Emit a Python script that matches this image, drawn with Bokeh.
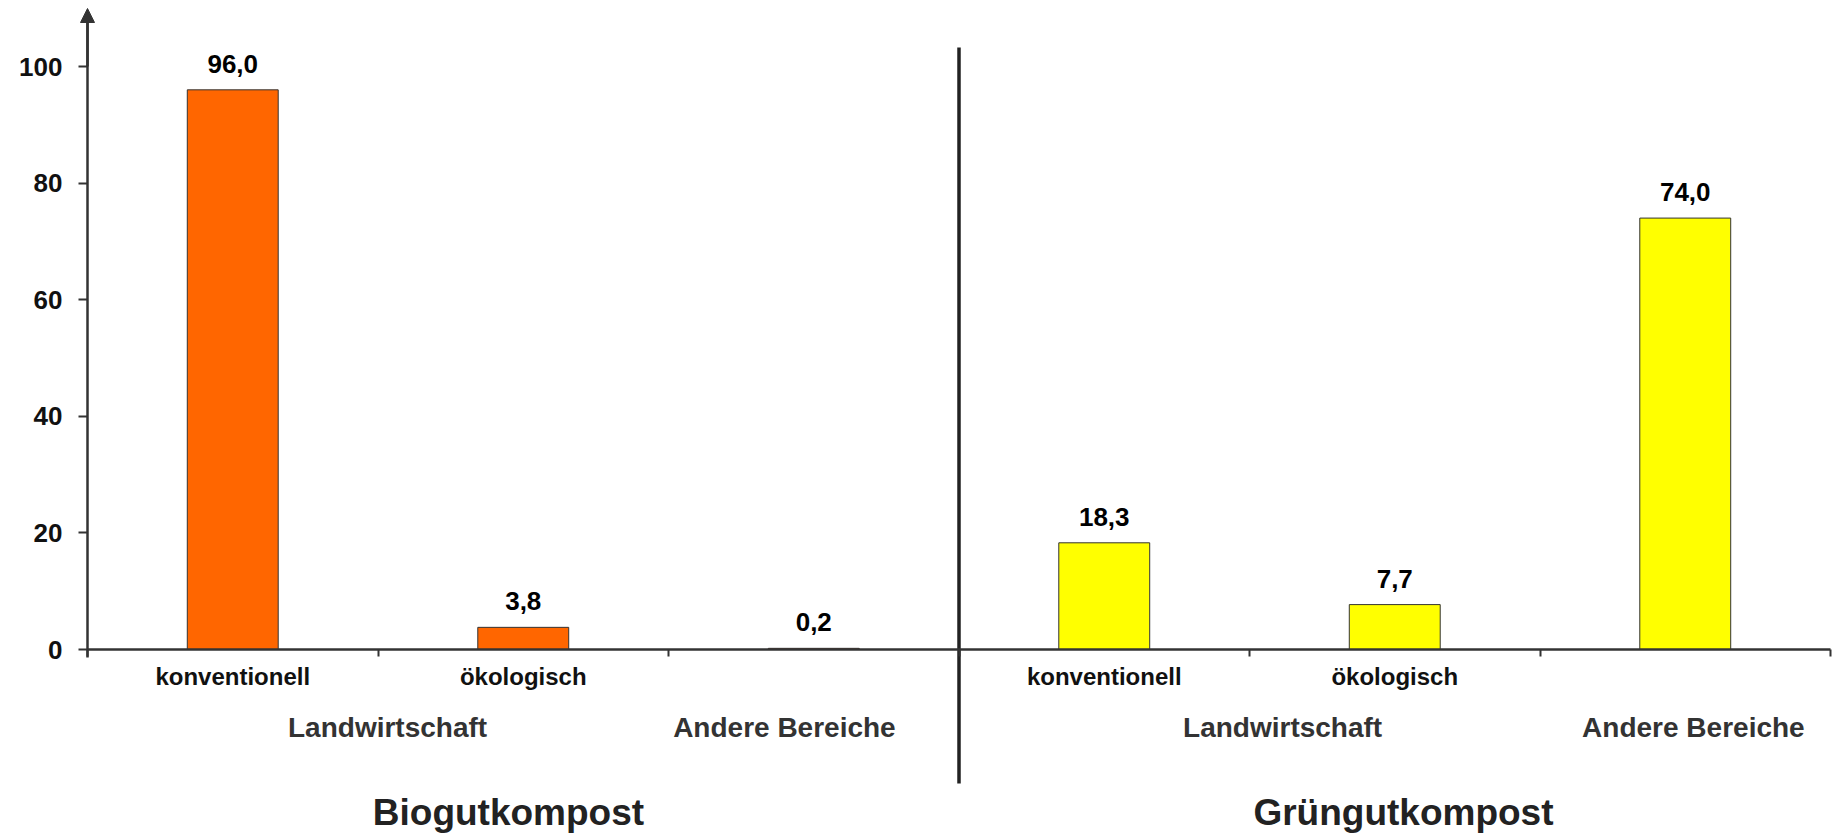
from bokeh.plotting import figure
from bokeh.models import (Range1d, FixedTicker, Arrow, NormalHead, ColumnDataSource, LinearAxis)
from bokeh.core.properties import value
from bokeh.embed import file_html
from bokeh.resources import INLINE

# ---- data ----
groups = ["Biogutkompost", "Grüngutkompost"]
sub_categories = ["konventionell", "ökologisch", "Andere Bereiche"]
tick_labels = ["konventionell", "ökologisch", "", "konventionell", "ökologisch", ""]
second_labels = ["Landwirtschaft", "Andere Bereiche", "Landwirtschaft", "Andere Bereiche"]
bio_values = [96.0, 3.8, 0.2]
gruen_values = [18.3, 7.7, 74.0]
y_ticks = [0, 20, 40, 60, 80, 100]
group_colors = ["#FF6600", "#FFFF00"]

FONT = "Liberation Sans"
W, H = 1834, 835
# pixel layout of the plotting area
X0_PX, X6_PX = 87, 1830      # x=0 and x=6
Y0_PX, Y100_PX = 649, 66     # y=0 and y=100
ux = (X6_PX - X0_PX) / 6.0
uy = (Y0_PX - Y100_PX) / 100.0

p = figure(width=W, height=H, output_backend="svg", toolbar_location=None,
           x_range=Range1d(-X0_PX / ux, 6 + (W - X6_PX) / ux),
           y_range=Range1d(-(H - Y0_PX) / uy, Y0_PX / uy),
           x_axis_location=None, y_axis_location=None,
           min_border_left=0, min_border_right=0, min_border_top=0, min_border_bottom=0)
p.outline_line_color = None
p.xgrid.visible = False
p.ygrid.visible = False
p.background_fill_color = "white"
p.border_fill_color = "white"

# bars
all_values = bio_values + gruen_values
n = len(all_values)
xs = [i + 0.5 for i in range(n)]
colors = [group_colors[0]] * len(bio_values) + [group_colors[1]] * len(gruen_values)
labels = [f"{v:.1f}".replace(".", ",") for v in all_values]
src = ColumnDataSource(dict(x=xs, top=all_values, color=colors, label=labels))
p.vbar(x="x", top="top", bottom=0, width=0.313, fill_color="color",
       line_color="#333333", line_width=1, source=src)
p.text(x="x", y="top", text="label", source=src, text_align="center",
       text_baseline="alphabetic", y_offset=-26, text_font=value(FONT),
       text_font_style="bold", text_font_size="26px", text_color="#000000")

# y axis
ya = LinearAxis(fixed_location=0, bounds=(-8 / uy, 108))
ya.ticker = FixedTicker(ticks=y_ticks)
ya.axis_line_color = "#333333"
ya.axis_line_width = 2.5
ya.major_tick_line_color = "#333333"
ya.major_tick_line_width = 2
ya.major_tick_out = 9
ya.major_tick_in = 0
ya.minor_tick_line_color = None
ya.major_label_standoff = 16
ya.major_label_text_font = FONT
ya.major_label_text_font_style = "bold"
ya.major_label_text_font_size = "26px"
ya.major_label_text_color = "#111111"
p.add_layout(ya, "left")

# x axis
xa = LinearAxis(fixed_location=0, bounds=(0, n))
xa.ticker = FixedTicker(ticks=xs, minor_ticks=list(range(n + 1)))
xa.major_label_overrides = {x: t for x, t in zip(xs, tick_labels)}
xa.axis_line_color = "#333333"
xa.axis_line_width = 2.5
xa.major_tick_line_color = None
xa.major_tick_out = 0
xa.major_tick_in = 0
xa.minor_tick_line_color = "#333333"
xa.minor_tick_line_width = 2
xa.minor_tick_out = 7
xa.minor_tick_in = 0
xa.major_label_standoff = 6
xa.major_label_text_font = FONT
xa.major_label_text_font_style = "bold"
xa.major_label_text_font_size = "24px"
xa.major_label_text_color = "#111111"
p.add_layout(xa, "below")

# arrow at the top of the y axis
p.add_layout(Arrow(x_start=0, y_start=100, x_end=0, y_end=(Y0_PX - 8) / uy,
                   line_color="#333333", line_width=2.5,
                   end=NormalHead(size=14, fill_color="#333333", line_color="#333333")))

# separator line between the two groups
p.segment(x0=[3], y0=[-(783 - Y0_PX) / uy], x1=[3], y1=[(Y0_PX - 47) / uy],
          line_color="#222222", line_width=3.5)

# second-level category labels
p.text(x=[1.033, 2.399, 4.114, 5.528], y=[-(727 - Y0_PX) / uy] * 4, text=second_labels,
       text_align="center", text_baseline="alphabetic", text_font=value(FONT),
       text_font_style="bold", text_font_size="28px", text_color="#333333")

# group titles
p.text(x=[1.449, 4.530], y=[-(812 - Y0_PX) / uy] * 2, text=groups,
       text_align="center", text_baseline="alphabetic", text_font=value(FONT),
       text_font_style="bold", text_font_size="37px", text_color="#222222")

open("out.html", "w").write(file_html(p, INLINE))
